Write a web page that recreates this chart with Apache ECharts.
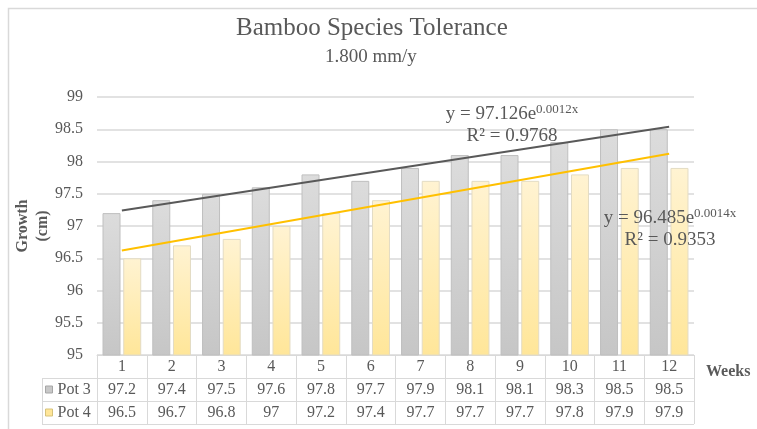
<!DOCTYPE html>
<html>
<head>
<meta charset="utf-8">
<script src="https://cdn.jsdelivr.net/npm/echarts@6/dist/echarts.min.js"></script>
<style>
  html, body { margin: 0; padding: 0; background: #ffffff; }
  #chart { width: 757px; height: 429px; }
</style>
</head>
<body>
<div id="chart"></div>
<script>
// Weekly growth readings (cm) for two pots of bamboo
const weeks = ['1', '2', '3', '4', '5', '6', '7', '8', '9', '10', '11', '12'];
const pot3 = [97.2, 97.4, 97.5, 97.6, 97.8, 97.7, 97.9, 98.1, 98.1, 98.3, 98.5, 98.5];
const pot4 = [96.5, 96.7, 96.8, 97, 97.2, 97.4, 97.7, 97.7, 97.7, 97.8, 97.9, 97.9];

// Exponential trendlines: start (week 1) and end (week 12) values
const trend3 = [97.24, 98.54];
const trend4 = [96.62, 98.12];
const trend3Eq = ['97.126', '0.0012x', '0.9768'];
const trend4Eq = ['96.485', '0.0014x', '0.9353'];

// Value axis range and step
const yMin = 95, yMax = 99, yStep = 0.5;

const FONT = "'Liberation Serif', 'Times New Roman', serif";
const TEXT = '#595959';
const LINE = '#d9d9d9';

// Plot rectangle and data-table geometry
const G = { left: 97, right: 694, top: 97, bottom: 355 };
const ROW = 23;
const LEGEND_LEFT = 42;

const chart = echarts.init(document.getElementById('chart'), null, { renderer: 'canvas' });

function eqLabel(x, y, eq) {
  return {
    type: 'text',
    x: x, y: y,
    style: {
      text: '{a|y = ' + eq[0] + 'e}{s|' + eq[1] + '}\n{a|R² = ' + eq[2] + '}',
      align: 'center',
      verticalAlign: 'top',
      fill: TEXT,
      rich: {
        a: { fontFamily: FONT, fontSize: 19, lineHeight: 22, fill: TEXT },
        s: { fontFamily: FONT, fontSize: 13, lineHeight: 22, verticalAlign: 'top', fill: TEXT, padding: [0, 0, 8, 0] }
      }
    },
    z: 10
  };
}

const tableBottom = G.bottom + ROW * 3;

const option = {
  animation: false,
  backgroundColor: '#ffffff',
  title: [
    {
      text: 'Bamboo Species Tolerance',
      left: 236,
      top: 16,
      padding: 0,
      textStyle: { fontFamily: FONT, fontSize: 25, fontWeight: 'normal', color: TEXT }
    },
    {
      text: '1.800 mm/y',
      left: 325,
      top: 48,
      padding: 0,
      textStyle: { fontFamily: FONT, fontSize: 19, fontWeight: 'normal', color: TEXT }
    }
  ],
  legend: {
    data: [
      { name: 'Pot 3', itemStyle: { color: '#c8c8c8', borderColor: '#a6a6a6', borderWidth: 1 } },
      { name: 'Pot 4', itemStyle: { color: '#ffe699', borderColor: '#d6c27a', borderWidth: 1 } }
    ],
    orient: 'vertical',
    left: 45,
    top: G.bottom + ROW,
    padding: 0,
    itemGap: 0,
    itemWidth: 7,
    itemHeight: 7,
    itemTextGap: 4,
    icon: 'rect',
    textStyle: { fontFamily: FONT, fontSize: 16, color: TEXT, lineHeight: ROW }
  },
  grid: {
    left: G.left,
    right: 757 - G.right,
    top: G.top,
    bottom: 429 - G.bottom,
    containLabel: false,
    outerBoundsMode: 'none'
  },
  xAxis: {
    type: 'category',
    data: weeks,
    boundaryGap: true,
    name: 'Weeks',
    nameLocation: 'end',
    nameGap: 12,
    nameMoveOverlap: false,
    nameTextStyle: {
      fontFamily: FONT, fontSize: 16, fontWeight: 'bold', color: TEXT,
      verticalAlign: 'top', align: 'left', padding: [9, 0, 0, 0]
    },
    axisLine: { show: true, lineStyle: { color: LINE, width: 1 } },
    axisTick: { show: true, interval: 0, length: ROW * 3, lineStyle: { color: LINE, width: 1 } },
    axisLabel: {
      interval: 0,
      margin: 0,
      fontFamily: FONT,
      fontSize: 16,
      color: TEXT,
      lineHeight: ROW,
      verticalAlign: 'top',
      formatter: function (v, i) {
        return weeks[i] + '\n' + pot3[i] + '\n' + pot4[i];
      }
    },
    splitLine: { show: false }
  },
  yAxis: {
    type: 'value',
    min: yMin,
    max: yMax,
    interval: yStep,
    name: 'Growth\n(cm)',
    nameLocation: 'middle',
    nameRotate: 90,
    nameGap: 44,
    nameMoveOverlap: false,
    nameTextStyle: { fontFamily: FONT, fontSize: 16, fontWeight: 'bold', color: TEXT, lineHeight: 20 },
    axisLine: { show: false },
    axisTick: { show: false },
    axisLabel: { fontFamily: FONT, fontSize: 16, color: TEXT, margin: 14 },
    splitLine: { lineStyle: { color: LINE, width: 1.5 } }
  },
  series: [
    {
      name: 'Pot 3',
      type: 'bar',
      data: pot3,
      barWidth: 18,
      barGap: '15%',
      itemStyle: {
        color: new echarts.graphic.LinearGradient(0, 0, 0, 1, [
          { offset: 0, color: '#dcdcdc' },
          { offset: 1, color: '#c6c6c6' }
        ]),
        borderColor: '#bfbfbf',
        borderWidth: 1
      }
    },
    {
      name: 'Pot 4',
      type: 'bar',
      data: pot4,
      barWidth: 18,
      itemStyle: {
        color: new echarts.graphic.LinearGradient(0, 0, 0, 1, [
          { offset: 0, color: '#fff3d2' },
          { offset: 1, color: '#ffe699' }
        ]),
        borderColor: '#e3dcc4',
        borderWidth: 1
      }
    },
    {
      name: 'Trend Pot 3',
      type: 'line',
      data: [[0, trend3[0]], [weeks.length - 1, trend3[1]]],
      symbol: 'none',
      lineStyle: { color: '#595959', width: 2 },
      z: 5
    },
    {
      name: 'Trend Pot 4',
      type: 'line',
      data: [[0, trend4[0]], [weeks.length - 1, trend4[1]]],
      symbol: 'none',
      lineStyle: { color: '#ffc000', width: 2.2 },
      z: 5
    }
  ],
  graphic: [
    // outer chart frame
    { type: 'rect', shape: { x: 8.5, y: 8.5, width: 800, height: 500 }, style: { fill: 'none', stroke: LINE, lineWidth: 1.5 }, silent: true },
    // data table rules
    { type: 'line', shape: { x1: LEGEND_LEFT, y1: G.bottom + ROW + 0.5, x2: G.right, y2: G.bottom + ROW + 0.5 }, style: { stroke: LINE, lineWidth: 1 } },
    { type: 'line', shape: { x1: LEGEND_LEFT, y1: G.bottom + ROW * 2 + 0.5, x2: G.right, y2: G.bottom + ROW * 2 + 0.5 }, style: { stroke: LINE, lineWidth: 1 } },
    { type: 'line', shape: { x1: LEGEND_LEFT, y1: tableBottom + 0.5, x2: G.right, y2: tableBottom + 0.5 }, style: { stroke: LINE, lineWidth: 1 } },
    { type: 'line', shape: { x1: LEGEND_LEFT + 0.5, y1: G.bottom + ROW, x2: LEGEND_LEFT + 0.5, y2: tableBottom }, style: { stroke: LINE, lineWidth: 1 } },
    // trendline equations
    eqLabel(512, 103, trend3Eq),
    eqLabel(670, 207, trend4Eq)
  ]
};

chart.setOption(option);
</script>
</body>
</html>
